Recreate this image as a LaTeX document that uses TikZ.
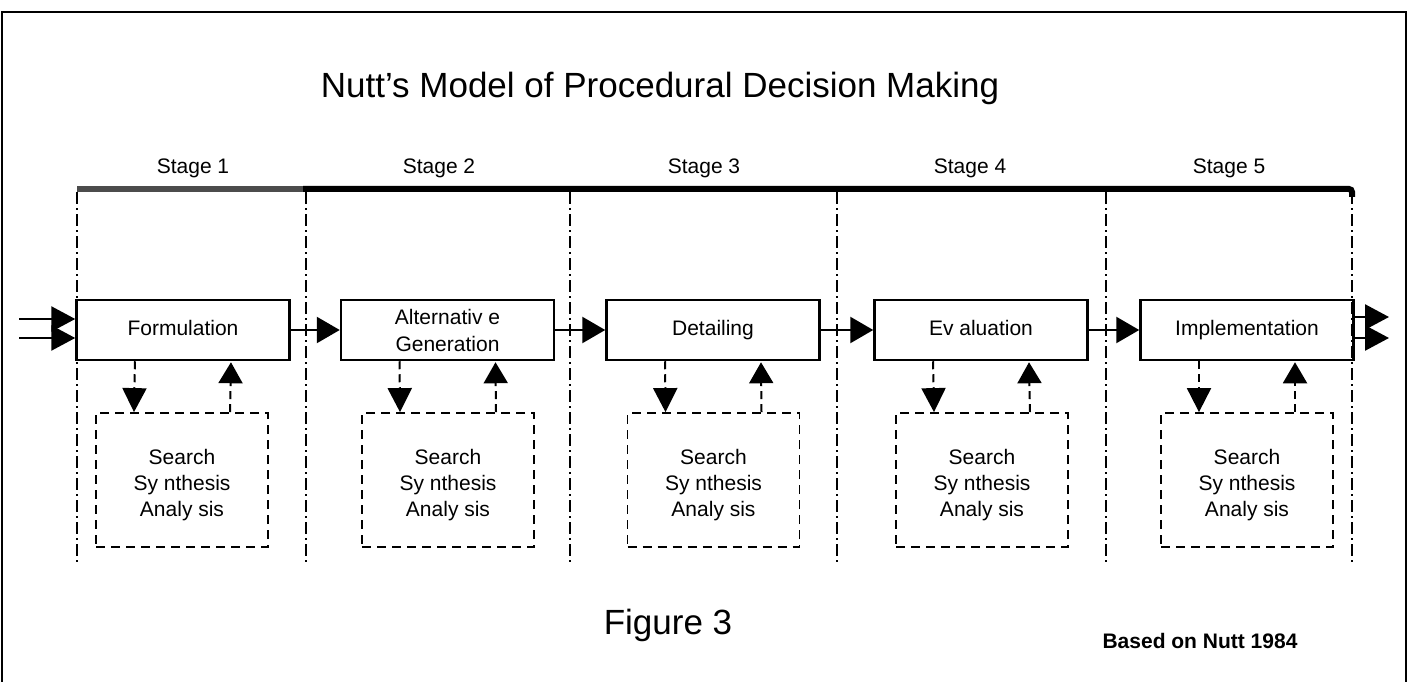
\documentclass[tikz,border=0pt]{standalone}
\usepackage{fontspec}
\setmainfont{Liberation Sans}
\usetikzlibrary{arrows.meta}
\begin{document}
\begin{tikzpicture}[x=1pt,y=-1pt,
  stagebox/.style={draw, line width=2.5pt, minimum width=213pt, minimum height=60pt,
    inner sep=0pt, align=center, font=\fontsize{21}{27}\selectfont},
  subbox/.style={draw, line width=1.8pt, dash pattern=on 9pt off 6pt,
    minimum width=172pt, minimum height=134pt, inner sep=0pt, align=center,
    font=\fontsize{21}{26}\selectfont},
  flow/.style={line width=2.5pt, -{Triangle[length=23pt,width=26pt]}},
  inflow/.style={line width=2.5pt, -{Triangle[length=24pt,width=25pt]}},
  subdown/.style={line width=2pt, dash pattern=on 8pt off 5pt,
    -{Triangle[length=24pt,width=24pt]}},
  subup/.style={line width=2pt, dash pattern=on 8pt off 5pt,
    -{Triangle[length=21pt,width=24pt]}, shorten >=1pt},
  divider/.style={line width=1.5pt, dash pattern=on 12pt off 4pt on 2pt off 4pt},
  stagelabel/.style={anchor=base, inner sep=0pt, font=\fontsize{21}{25}\selectfont},
  bigtext/.style={anchor=base, inner sep=0pt, font=\fontsize{35}{42}\selectfont},
  smalltext/.style={anchor=base, inner sep=0pt, font=\bfseries\fontsize{21}{25}\selectfont}
]
\useasboundingbox (0,0) rectangle (1409,682);
\fill[white] (0,0) rectangle (1409,682);

% outer frame (bottom edge lies beyond the picture)
\draw[line width=1.6pt] (2,682) -- (2,12) -- (1406,12) -- (1406,682);

% title and stage labels
\node[bigtext] (title) at (660,98) {Nutt’s Model of Procedural Decision Making};
\node[stagelabel] (s1) at (193,174) {Stage 1};
\node[stagelabel] (s2) at (439,174) {Stage 2};
\node[stagelabel] (s3) at (704,174) {Stage 3};
\node[stagelabel] (s4) at (970,174) {Stage 4};
\node[stagelabel] (s5) at (1229,174) {Stage 5};

% top bar
\draw[line width=6pt, black!70] (77,189) -- (306,189);
\draw[line width=6pt, rounded corners=3pt] (303,189) -- (1352,189) -- (1352,197);

% stage dividers
\foreach \x in {77,306,570,837,1106,1352}
  \draw[divider] (\x,192) -- (\x,563);

% main boxes
\node[stagebox] (b1) at (183,330) {Formulation\vphantom{Ip}};
\node[stagebox] (b2) at (447.5,330) {Alternativ e\\Generation};
\node[stagebox] (b3) at (713,330) {Detailing\vphantom{Ip}};
\node[stagebox] (b4) at (981,330) {Ev aluation\vphantom{Ip}};
\node[stagebox] (b5) at (1247,330) {Implementation\vphantom{Ip}};

% sub boxes
\foreach \i/\x in {1/182,2/448,3/713.5,4/982,5/1247}
  \node[subbox] (d\i) at (\x,480) {\rule{0pt}{26pt}Search\\Sy nthesis\\Analy sis};

% flow arrows
\draw[flow] (b1.east) -- (b2.west);
\draw[flow] (b2.east) -- (b3.west);
\draw[flow] (b3.east) -- (b4.west);
\draw[flow] (b4.east) -- (b5.west);

% inputs and outputs
\coordinate (inA) at (19,319);
\coordinate (inB) at (19,338);
\draw[inflow] (inA) -- (inA -| b1.west);
\draw[inflow] (inB) -- (inB -| b1.west);
\coordinate (outA) at (1389,317);
\coordinate (outB) at (1389,338);
\draw[inflow] (outA -| b5.east) -- (outA);
\draw[inflow] (outB -| b5.east) -- (outB);

% links to sub boxes
\foreach \i in {1,...,5}{
  \draw[subdown] ([xshift=-48pt]b\i.south) -- ([xshift=-48pt]d\i.north);
  \draw[subup] ([xshift=48pt]d\i.north) -- ([xshift=48pt]b\i.south);
}

% footer
\node[bigtext] (fig) at (668,634) {Figure 3};
\node[smalltext] (src) at (1200,648) {Based on Nutt 1984};
\end{tikzpicture}
\end{document}
